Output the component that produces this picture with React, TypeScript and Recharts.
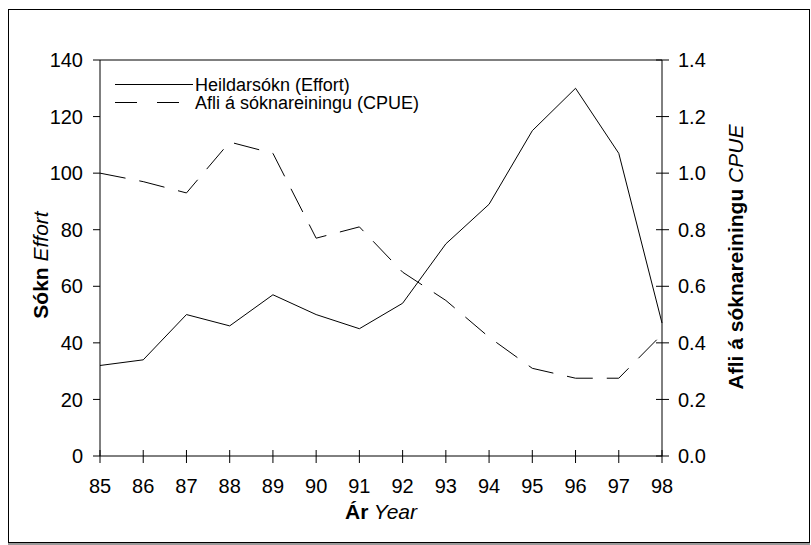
import React from "react"
import { LineChart, Line, XAxis, YAxis, Legend, ReferenceLine } from "recharts"

const FONT = '"Liberation Sans", Arial, sans-serif'

// years 1985-1998, shown as two digits
const years = [85, 86, 87, 88, 89, 90, 91, 92, 93, 94, 95, 96, 97, 98]
// Heildarsókn (Effort), left axis
const effort = [32, 34, 50, 46, 57, 50, 45, 54, 75, 89, 115, 130, 107, 47]
// Afli á sóknareiningu (CPUE), right axis
const cpue = [1.0, 0.97, 0.93, 1.11, 1.07, 0.77, 0.81, 0.65, 0.55, 0.42, 0.31, 0.275, 0.275, 0.43]

const effortTicks = [0, 20, 40, 60, 80, 100, 120, 140]
const cpueTicks = [0, 0.2, 0.4, 0.6, 0.8, 1.0, 1.2, 1.4]

const data = years.map((year, i) => ({ year, effort: effort[i], cpue: cpue[i] }))

// tick lengths: outward 7, inward 6
const OUT = 7
const IN = 6
const X_MARGIN = 16
const R_MARGIN = 9

const XTick = (props: any) => {
  const { x, y, payload } = props
  const axisY = y - OUT - X_MARGIN
  return (
    <g>
      <line x1={x} x2={x} y1={axisY - IN} y2={axisY + OUT} stroke="#000" />
      <text x={x} y={y} dy="0.71em" textAnchor="middle" fontSize={20} fontFamily={FONT} fill="#000">
        {payload.value}
      </text>
    </g>
  )
}

const RightTick = (props: any) => {
  const { x, y, payload } = props
  const axisX = x - OUT - R_MARGIN
  return (
    <g>
      <line x1={axisX - IN} x2={axisX + OUT} y1={y} y2={y} stroke="#000" />
      <text x={x} y={y} dy="0.355em" textAnchor="start" fontSize={20} fontFamily={FONT} fill="#000">
        {Number(payload.value).toFixed(1)}
      </text>
    </g>
  )
}

const XTitle = (props: any) => {
  const vb = props.viewBox || { x: 91, y: 446, width: 562, height: 86 }
  return (
    <text x={vb.x + vb.width / 2} y={vb.y + 63} textAnchor="middle" fontSize={21} fontFamily={FONT} fill="#000">
      <tspan fontWeight="bold">Ár</tspan>
      <tspan fontStyle="italic">{" Year"}</tspan>
    </text>
  )
}

const LeftTitle = (props: any) => {
  const vb = props.viewBox || { x: 0, y: 50, width: 91, height: 396 }
  const x = vb.x + 39
  const y = vb.y + vb.height / 2 + 7
  return (
    <text x={x} y={y} transform={`rotate(-90 ${x} ${y})`} textAnchor="middle" fontSize={21} fontFamily={FONT} fill="#000">
      <tspan fontWeight="bold">Sókn</tspan>
      <tspan fontStyle="italic">{" Effort"}</tspan>
    </text>
  )
}

const RightTitle = (props: any) => {
  const vb = props.viewBox || { x: 653, y: 50, width: 147, height: 396 }
  const x = vb.x + 81
  const y = vb.y + vb.height / 2 - 1
  return (
    <text x={x} y={y} transform={`rotate(-90 ${x} ${y})`} textAnchor="middle" fontSize={21} fontFamily={FONT} fill="#000">
      <tspan fontWeight="bold">Afli á sóknareiningu</tspan>
      <tspan fontStyle="italic">{" CPUE"}</tspan>
    </text>
  )
}

const LegendBox = () => (
  <svg width={320} height={42} style={{ display: "block" }}>
    <line x1={0} x2={78} y1={12.5} y2={12.5} stroke="#000" strokeWidth={1} />
    <text x={80} y={18.5} fontSize={18} fontFamily={FONT} fill="#000">
      Heildarsókn (Effort)
    </text>
    <line x1={0} x2={65} y1={30.5} y2={30.5} stroke="#000" strokeWidth={1} strokeDasharray="22 20" />
    <text x={80} y={36.5} fontSize={18} fontFamily={FONT} fill="#000">
      Afli á sóknareiningu (CPUE)
    </text>
  </svg>
)

export default function App() {
  return (
    <div
      style={{
        position: "absolute",
        left: 8,
        top: 9,
        width: 800,
        height: 532,
        border: "1px solid #000",
        boxShadow: "0 2px 0 #999",
        background: "#fff",
      }}
    >
      <LineChart width={800} height={532} data={data} margin={{ top: 50, right: 0, bottom: 0, left: 0 }}>
        <XAxis
          xAxisId="x"
          dataKey="year"
          type="number"
          domain={[85, 98]}
          ticks={years}
          interval={0}
          height={86}
          tickSize={OUT}
          tickMargin={X_MARGIN}
          tick={XTick}
          tickLine={false}
          axisLine={{ stroke: "#000" }}
          label={{ content: XTitle }}
        />
        <YAxis
          yAxisId="l"
          domain={[0, 140]}
          ticks={effortTicks}
          interval={0}
          width={91}
          tickSize={OUT}
          tickMargin={10}
          tick={{ fill: "#000", fontSize: 20, fontFamily: FONT }}
          tickLine={{ stroke: "#000" }}
          axisLine={{ stroke: "#000" }}
          label={{ content: LeftTitle }}
        />
        <YAxis
          yAxisId="r"
          orientation="right"
          domain={[0, 1.4]}
          ticks={cpueTicks}
          interval={0}
          width={147}
          tickSize={OUT}
          tickMargin={R_MARGIN}
          tick={RightTick}
          tickLine={false}
          axisLine={{ stroke: "#000" }}
          label={{ content: RightTitle }}
        />
        <ReferenceLine xAxisId="x" yAxisId="l" y={140} stroke="#000" />
        <Legend
          layout="vertical"
          verticalAlign="middle"
          align="center"
          content={LegendBox}
          wrapperStyle={{ left: 106, top: 62, width: 320, height: 42 }}
        />
        <Line
          xAxisId="x"
          yAxisId="l"
          type="linear"
          dataKey="effort"
          stroke="#000"
          strokeWidth={1}
          dot={false}
          isAnimationActive={false}
        />
        <Line
          xAxisId="x"
          yAxisId="r"
          type="linear"
          dataKey="cpue"
          stroke="#000"
          strokeWidth={1}
          strokeDasharray="26 14"
          dot={false}
          isAnimationActive={false}
        />
      </LineChart>
    </div>
  )
}
